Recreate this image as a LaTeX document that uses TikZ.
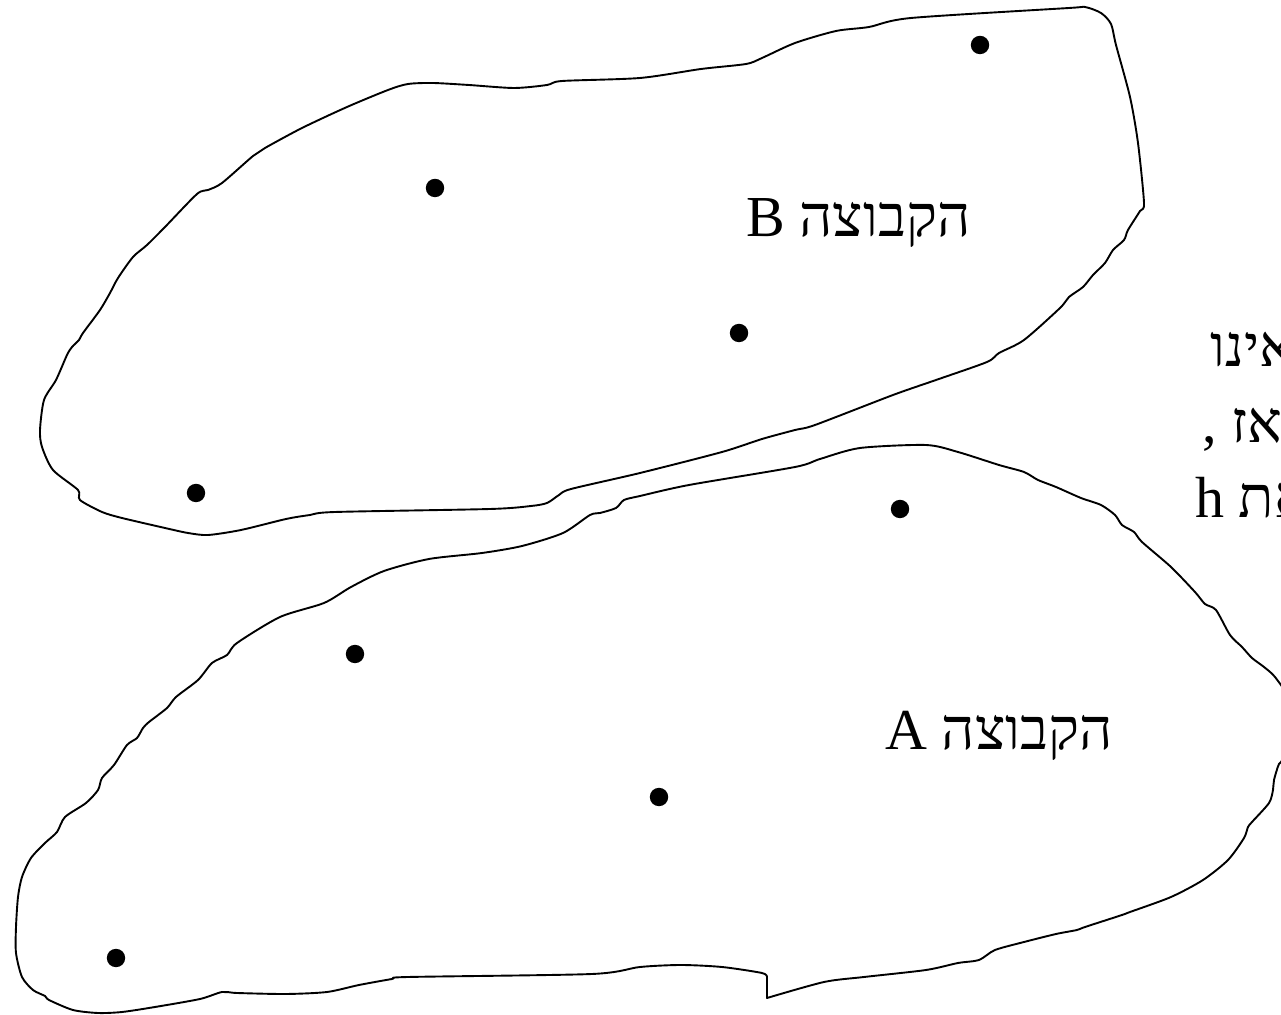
\documentclass[tikz,border=0pt]{standalone}
\usepackage{fontspec}
\setmainfont{Liberation Serif}
\newfontfamily\hebfont[Script=Hebrew]{Liberation Serif}
\TeXXeTstate=1
\begin{document}
\begin{tikzpicture}[x=0.5pt,y=-0.5pt,
  blob/.style={draw=black, line width=0.95pt, line join=round},
  dot/.style={circle, fill=black, inner sep=0pt, minimum size=9.2pt},
  lbl/.style={inner sep=0pt, font=\hebfont\fontsize{29}{35}\selectfont}]
\useasboundingbox (0,0) rectangle (1281,1015);
\begin{scope}
\clip (0,0) rectangle (1281,1015);
% set B
\draw[blob] plot[smooth cycle, tension=0.45] coordinates {
(56,380) (67,355) (72,347) (79,340) (83,333) (100,310) (110,293) (118,278) (133,257) (147,245)
(165,227) (197,194) (208,190) (222,183) (253,156) (265,148) (302,128) (347,107) (388,90)
(408,84) (433,83) (469,85) (514,88) (547,85) (562,81) (640,78) (701,69) (746,64) (762,58)
(795,43) (836,31) (869,27) (911,18) (1069,8) (1085,7) (1101,13) (1111,24) (1116,45)
(1130,97) (1138,143) (1144,203) (1140,211) (1128,230) (1124,240) (1113,250) (1105,263)
(1093,275) (1083,287) (1069,297) (1060,308) (1024,340) (999,353) (987,362) (936,380)
(893,395) (815,425) (795,430) (762,439) (722,452) (640,473) (571,489) (559,495) (547,503)
(531,506) (490,509) (335,512) (310,515) (286,519) (241,530) (208,535) (188,533) (165,528)
(122,518) (102,512) (80,500) (78,490) (53,470) (42,447) (40,430) (44,400)};
% set A
\draw[blob] plot[smooth, tension=0.45] coordinates {
(767,977) (762,973) (722,967) (681,965) (640,967) (592,974) (408,977) (392,979) (359,985)
(327,992) (286,994) (237,993) (222,992) (200,999) (155,1007) (122,1012) (98,1013) (73,1010)
(49,1000) (45,996) (33,990) (22,977) (16,953) (16,927) (18,897) (22,877) (31,858) (45,843)
(57,832) (65,817) (86,803) (98,790) (102,778) (114,765) (127,745) (137,738) (143,728)
(149,722) (167,708) (176,697) (198,680) (212,663) (227,655) (237,643) (280,617) (324,603)
(351,587) (384,571) (429,559) (482,553) (522,546) (563,533) (590,515) (600,513) (616,508)
(624,500) (640,496) (689,485) (795,467) (820,459) (860,448) (926,445) (958,452) (999,465)
(1024,472) (1038,480) (1056,487) (1081,498) (1101,505) (1115,515) (1122,525) (1134,532)
(1142,542) (1171,567) (1195,592) (1205,604) (1216,610) (1230,635) (1242,647) (1252,658)
(1264,667) (1275,677) (1290,700) (1296,730) (1286,756) (1279,764) (1274,780) (1273,790)
(1269,803) (1252,822) (1248,827) (1244,838) (1228,860) (1203,880) (1171,897) (1130,912)
(1122,915) (1085,927) (1077,930) (1056,934) (1024,942) (995,950) (979,960) (958,963)
(926,970) (864,977) (824,982) (767,998)} -- cycle;
% partial text at the right edge, cut off as in the reference
\node[lbl, anchor=base west] (t1) at (1210,367) {\beginR אינו\endR};
\node[lbl, anchor=base west] (t2) at (1202,443) {\beginR אז ,\endR};
\node[lbl, anchor=base west] (t3) at (1195,518) {\beginR את h\endR};
\end{scope}
% labels
\node[lbl, anchor=base west] (lB) at (746,237) {\beginR הקבוצה B\endR};
\node[lbl, anchor=base west] (lA) at (885,750) {\beginR הקבוצה A\endR};
% points
\node[dot] (b1) at (980,45) {};
\node[dot] (b2) at (435,188) {};
\node[dot] (b3) at (739,333) {};
\node[dot] (b4) at (196,493) {};
\node[dot] (a1) at (900,509) {};
\node[dot] (a2) at (355,654) {};
\node[dot] (a3) at (659,797) {};
\node[dot] (a4) at (116,958) {};
\end{tikzpicture}
\end{document}
